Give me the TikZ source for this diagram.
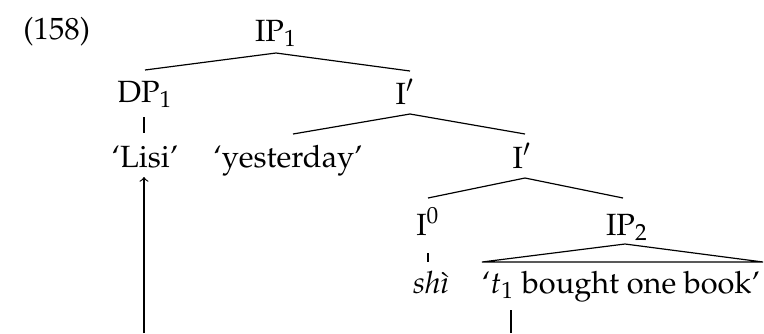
\documentclass[tikz,border=0pt]{standalone}
\usepackage[T1]{fontenc}
\usepackage{mathpazo}
\usetikzlibrary{calc}
\tikzset{
  lab/.style={inner sep=0pt, anchor=base},
  edge/.style={line width=0.5pt},
}
\begin{document}
\begin{tikzpicture}[x=0.42pt, y=-0.42pt, font=\fontsize{12.9}{15}\selectfont]
\useasboundingbox (0,0) rectangle (764,333);
% labels
\node[inner sep=0pt, anchor=base west] (ex) at (23,39) {(158)};
\node[lab] (IP1) at (276,41) {IP$_1$};
\node[lab] (DP1) at (145,102) {DP$_1$};
\node[lab] (Ia) at (405,104) {I$'$};
\node[lab] (Lisi) at (145,167) {`Lisi'};
\node[lab] (yest) at (288,167) {`yesterday'};
\node[lab] (Ib) at (522,168) {I$'$};
\node[lab] (I0) at (428,235) {I$^0$};
\node[lab] (IP2) at (627,235) {IP$_2$};
\node[lab] (shi) at (431,293) {\textit{sh\`{\i}}};
\node[lab] (t1) at (621,293) {`$t_1$ bought one book'};
\coordinate (bl) at (144,333);
\coordinate (br) at (511,333);
% branches
\draw[edge] ($(IP1.base)+(0,12)$) -- ($(DP1.base)+(0,-32)$);
\draw[edge] ($(IP1.base)+(0,12)$) -- ($(Ia.base)+(5,-33)$);
\draw[edge] ($(DP1.base)+(-1,15)$) -- ($(Lisi.base)+(-1,-34)$);
\draw[edge] ($(Ia.base)+(5,10)$) -- ($(yest.base)+(5,-33)$);
\draw[edge] ($(Ia.base)+(5,10)$) -- ($(Ib.base)+(3,-34)$);
\draw[edge] ($(Ib.base)+(3,10)$) -- ($(I0.base)+(0,-37)$);
\draw[edge] ($(Ib.base)+(3,10)$) -- ($(IP2.base)+(-4,-37)$);
\draw[edge] ($(I0.base)+(0,18)$) -- ($(shi.base)+(-3,-31)$);
% triangle over IP2
\draw[edge] ($(IP2.base)+(-2,9)$) -- ($(t1.base)+(-139,-31)$) -- ($(t1.base)+(142,-31)$) -- cycle;
% movement
\draw[edge] (br) -- ($(t1.base)+(-110,17)$);
\draw[edge,->] (bl) -- ($(Lisi.base)+(-1,10)$);
\end{tikzpicture}
\end{document}
